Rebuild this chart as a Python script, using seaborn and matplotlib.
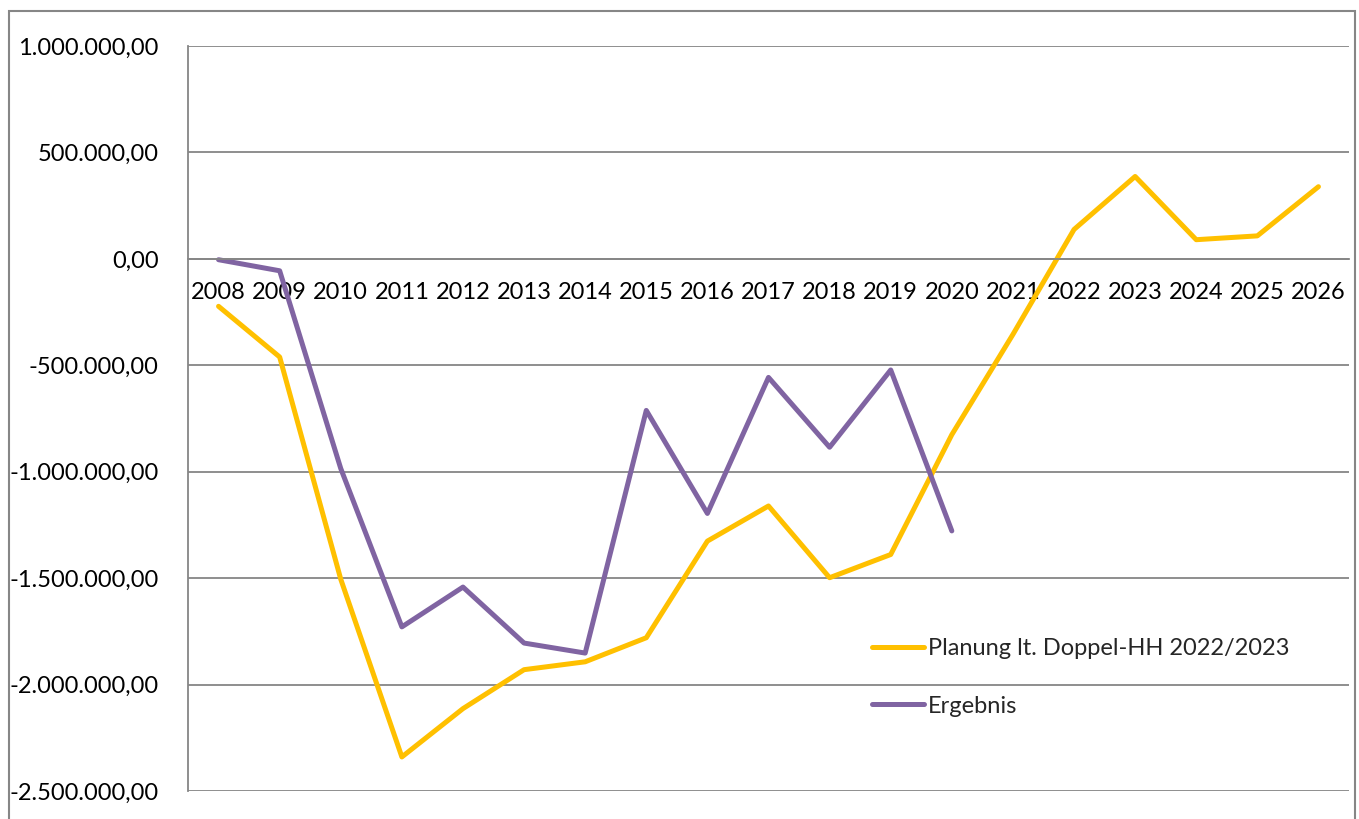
import numpy as np
import pandas as pd
import matplotlib
matplotlib.use('Agg')
import matplotlib.pyplot as plt
from matplotlib.ticker import FuncFormatter, MultipleLocator, FixedLocator
from matplotlib.patches import Rectangle
import seaborn as sns

# --- data ---
years = list(range(2008, 2027))
planung = [-223000, -461000, -1505000, -2340000, -2113000, -1930000, -1893000,
           -1780000, -1326000, -1161000, -1498000, -1389000, -826000, -355000,
           138000, 387000, 90000, 108000, 339000]

ergebnis_years = list(range(2008, 2021))
ergebnis = [-4000, -56000, -985000, -1729000, -1542000, -1805000, -1852000,
            -712000, -1196000, -557000, -885000, -522000, -1278000]

label_plan = 'Planung lt. Doppel-HH 2022/2023'
label_erg = 'Ergebnis'

df_plan = pd.DataFrame({'Jahr': years, 'Wert': planung})
df_erg = pd.DataFrame({'Jahr': ergebnis_years, 'Wert': ergebnis})

# --- style ---
sns.set_style('white')
plt.rcParams['font.family'] = ['Lato', 'DejaVu Sans']
FS = 17
GRID = '#868686'
YELLOW = '#FFC000'
PURPLE = '#8064A2'

W, H = 1359, 819
fig = plt.figure(figsize=(W / 100, H / 100), dpi=100)
ax = fig.add_axes([188 / W, 1 - 791 / H, (1349 - 188) / W, (791 - 46) / H])

sns.lineplot(data=df_plan, x='Jahr', y='Wert', ax=ax, color=YELLOW,
             lw=3.6, label=label_plan, solid_joinstyle='round',
             solid_capstyle='round')
sns.lineplot(data=df_erg, x='Jahr', y='Wert', ax=ax, color=PURPLE,
             lw=3.6, label=label_erg, solid_joinstyle='round',
             solid_capstyle='round')


def de_fmt(v, pos):
    s = f'{v:,.2f}'
    return s.replace(',', 'X').replace('.', ',').replace('X', '.')


# y axis
ax.set_ylim(-2.5e6, 1e6)
ax.yaxis.set_major_locator(MultipleLocator(5e5))
ax.yaxis.set_major_formatter(FuncFormatter(de_fmt))
ax.tick_params(axis='y', length=8, width=1.2, color=GRID, pad=13,
               labelsize=FS, labelcolor='black')
ax.yaxis.grid(True, color=GRID, lw=1.3)
ax.set_axisbelow(True)

# x axis at zero line
ax.set_xlim(2007.5, 2026.5)
ax.set_xticks(years)
ax.set_xticklabels([str(y) for y in years])
ax.xaxis.set_minor_locator(FixedLocator(np.arange(2007.5, 2027, 1)))
ax.tick_params(axis='x', which='major', length=0, pad=17, labelsize=FS,
               labelcolor='black')
ax.tick_params(axis='x', which='minor', length=8, width=1.2, color=GRID,
               direction='out')

for side in ['top', 'right']:
    ax.spines[side].set_visible(False)
ax.spines['left'].set_color(GRID)
ax.spines['left'].set_linewidth(1.3)
ax.spines['bottom'].set_position(('data', 0))
ax.spines['bottom'].set_color(GRID)
ax.spines['bottom'].set_linewidth(1.3)

ax.set_xlabel('')
ax.set_ylabel('')

# legend inside the lower right of the plot
ax.legend(loc='upper left', bbox_to_anchor=(872 / W, 1 - 638 / H),
          bbox_transform=fig.transFigure, frameon=False, fontsize=FS,
          handlelength=2.2, handletextpad=0.17, labelspacing=1.55,
          borderpad=0, borderaxespad=0)

# outer chart border
fig.patches.append(Rectangle((9 / W, -0.05), (1355 - 9) / W, 1 - 11 / H + 0.05,
                             transform=fig.transFigure, fill=False,
                             ec=GRID, lw=1.5))

fig.savefig('out.png', dpi=100)
